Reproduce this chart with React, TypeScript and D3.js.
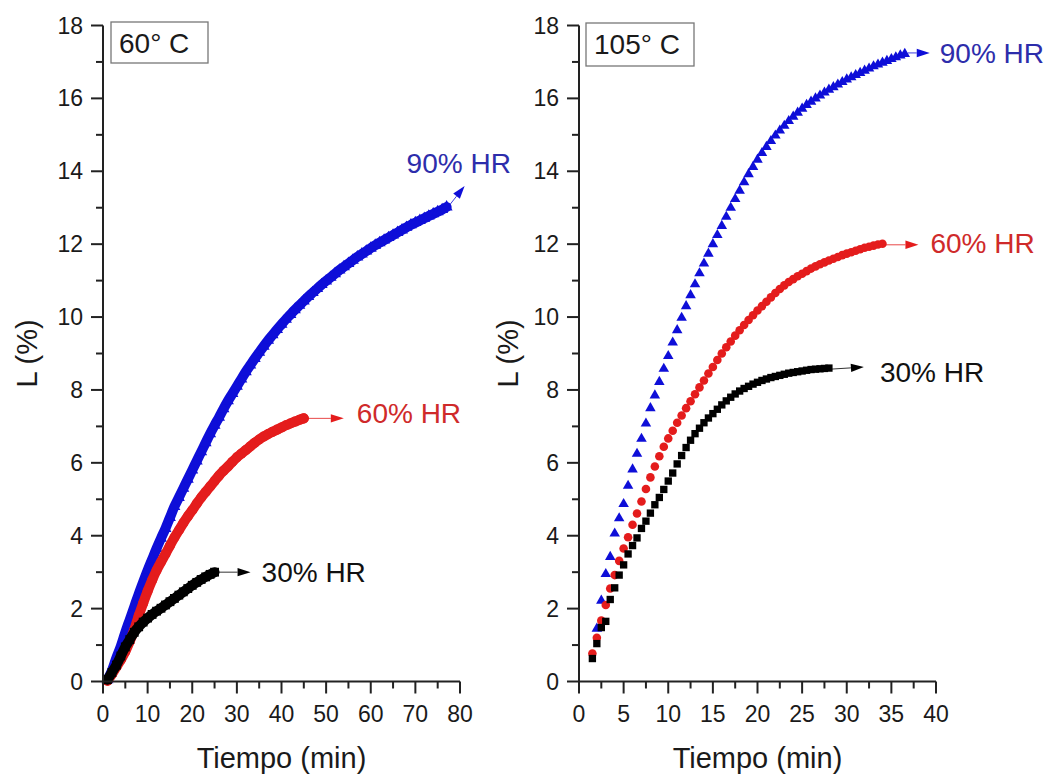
import React from 'react';
import * as d3 from 'd3';

// ---------- 60 °C panel data (time in min, L in %) ----------
const t60_90 = [1,2,3,4,5,6,7,8,9,10,11,12,13,14,15,16,17,18,19,20,21,22,23,24,25,26,27,28,29,30,31,32,33,34,35,36,37,38,39,40,41,42,43,44,45,46,47,48,49,50,51,52,53,54,55,56,57,58,59,60,61,62,63,64,65,66,67,68,69,70,71,72,73,74,75,76,77];
const L60_90 = [0.05,0.3,0.65,0.97,1.35,1.7,2.05,2.4,2.73,3.05,3.35,3.65,3.93,4.2,4.5,4.8,5.05,5.3,5.55,5.8,6.05,6.3,6.55,6.8,7.03,7.25,7.48,7.7,7.9,8.1,8.3,8.5,8.68,8.86,9.03,9.2,9.36,9.51,9.66,9.8,9.94,10.07,10.2,10.32,10.44,10.56,10.67,10.78,10.89,10.99,11.09,11.19,11.29,11.38,11.47,11.56,11.65,11.73,11.81,11.89,11.97,12.04,12.11,12.18,12.25,12.32,12.39,12.46,12.53,12.59,12.65,12.71,12.77,12.83,12.89,12.95,13.02];

const t60_60 = [1,2,3,4,5,6,7,8,9,10,11,12,13,14,15,16,17,18,19,20,21,22,23,24,25,26,27,28,29,30,31,32,33,34,35,36,37,38,39,40,41,42,43,44,45];
const L60_60 = [0.02,0.2,0.4,0.6,0.82,1.1,1.42,1.8,2.15,2.48,2.78,3.05,3.28,3.5,3.73,3.95,4.15,4.35,4.53,4.7,4.88,5.05,5.2,5.35,5.5,5.65,5.78,5.9,6.03,6.15,6.25,6.35,6.45,6.55,6.64,6.72,6.79,6.85,6.91,6.97,7.03,7.08,7.13,7.18,7.22];

const t60_30 = [1,2,3,4,5,6,7,8,9,10,11,12,13,14,15,16,17,18,19,20,21,22,23,24,25];
const L60_30 = [0.05,0.25,0.45,0.7,0.95,1.15,1.35,1.5,1.63,1.74,1.84,1.93,2.01,2.1,2.19,2.28,2.37,2.46,2.55,2.64,2.72,2.8,2.87,2.94,3.0];

// ---------- 105 °C panel data ----------
const t105_90 = [2,2.5,3,3.5,4,4.5,5,5.5,6,6.5,7,7.5,8,8.5,9,9.5,10,10.5,11,11.5,12,12.5,13,13.5,14,14.5,15,15.5,16,16.5,17,17.5,18,18.5,19,19.5,20,20.5,21,21.5,22,22.5,23,23.5,24,24.5,25,25.5,26,26.5,27,27.5,28,28.5,29,29.5,30,30.5,31,31.5,32,32.5,33,33.5,34,34.5,35,35.5,36,36.5];
const L105_90 = [1.45,2.22,2.95,3.42,4.06,4.48,4.87,5.37,5.82,6.25,6.66,7.08,7.5,7.85,8.22,8.58,8.93,9.3,9.64,9.98,10.3,10.6,10.9,11.2,11.47,11.74,12.0,12.25,12.5,12.75,13.0,13.24,13.47,13.7,13.92,14.12,14.32,14.5,14.67,14.83,14.98,15.12,15.25,15.38,15.5,15.61,15.72,15.82,15.91,16.0,16.08,16.16,16.24,16.31,16.38,16.45,16.52,16.58,16.64,16.7,16.76,16.82,16.88,16.93,16.98,17.03,17.08,17.13,17.18,17.22];

const t105_60 = [1.5,2,2.5,3,3.5,4,4.5,5,5.5,6,6.5,7,7.5,8,8.5,9,9.5,10,10.5,11,11.5,12,12.5,13,13.5,14,14.5,15,15.5,16,16.5,17,17.5,18,18.5,19,19.5,20,20.5,21,21.5,22,22.5,23,23.5,24,24.5,25,25.5,26,26.5,27,27.5,28,28.5,29,29.5,30,30.5,31,31.5,32,32.5,33,33.5,34];
const L105_60 = [0.77,1.2,1.67,2.1,2.55,2.92,3.31,3.65,3.96,4.3,4.61,4.94,5.28,5.6,5.9,6.18,6.44,6.67,6.88,7.1,7.3,7.5,7.69,7.88,8.07,8.26,8.45,8.63,8.82,9.0,9.17,9.33,9.49,9.64,9.78,9.92,10.05,10.18,10.3,10.42,10.54,10.66,10.77,10.87,10.96,11.04,11.12,11.19,11.26,11.33,11.39,11.45,11.5,11.55,11.6,11.65,11.7,11.74,11.78,11.82,11.86,11.9,11.93,11.96,11.99,12.01];

const t105_30 = [1.5,2,2.5,3,3.5,4,4.5,5,5.5,6,6.5,7,7.5,8,8.5,9,9.5,10,10.5,11,11.5,12,12.5,13,13.5,14,14.5,15,15.5,16,16.5,17,17.5,18,18.5,19,19.5,20,20.5,21,21.5,22,22.5,23,23.5,24,24.5,25,25.5,26,26.5,27,27.5,28];
const L105_30 = [0.63,1.04,1.48,1.65,2.25,2.57,2.92,3.2,3.5,3.73,3.94,4.2,4.4,4.62,4.85,5.05,5.27,5.5,5.72,5.97,6.2,6.42,6.62,6.8,6.95,7.1,7.23,7.35,7.47,7.59,7.7,7.8,7.89,7.97,8.04,8.1,8.16,8.21,8.26,8.3,8.34,8.37,8.4,8.43,8.46,8.48,8.5,8.52,8.54,8.56,8.57,8.58,8.59,8.6];

// ---------- ticks / labels ----------
const yMajor = [0,2,4,6,8,10,12,14,16,18];
const yMinor = [1,3,5,7,9,11,13,15,17];
const xMajor60 = [0,10,20,30,40,50,60,70,80];
const xMinor60 = [5,15,25,35,45,55,65,75];
const xMajor105 = [0,5,10,15,20,25,30,35,40];
const xMinor105 = [2.5,7.5,12.5,17.5,22.5,27.5,32.5,37.5];
const seriesNames = ['90% HR','60% HR','30% HR'];
const panelTitles = ['60° C','105° C'];
const xTitle = 'Tiempo (min)';
const yTitle = 'L (%)';

const FONT = "'Liberation Sans', Arial, Helvetica, sans-serif";
const BLUE = '#0e0ed8';
const RED = '#e41c1c';
const BLACK = '#000000';
const AX = '#222222';

type Ann = { sx: number; sy: number; ex: number; ey: number; tx: number; ty: number };

function Arrow({ x1, y1, x2, y2, color }: { x1: number; y1: number; x2: number; y2: number; color: string }) {
  const ang = Math.atan2(y2 - y1, x2 - x1);
  const len = 13, hw = 4.2;
  const bx = x2 - len * Math.cos(ang), by = y2 - len * Math.sin(ang);
  const px = -Math.sin(ang) * hw, py = Math.cos(ang) * hw;
  return (
    <g>
      <line x1={x1} y1={y1} x2={bx} y2={by} stroke={color} strokeWidth={1} opacity={0.8} />
      <polygon points={`${x2},${y2} ${bx + px},${by + py} ${bx - px},${by - py}`} fill={color} />
    </g>
  );
}

export default function App() {
  const W = 1057, H = 778;
  const yS = d3.scaleLinear().domain([0, 18]).range([681.5, 25.5]);

  const panels = [
    {
      xS: d3.scaleLinear().domain([0, 80]).range([103, 460]),
      xMajor: xMajor60, xMinor: xMinor60, title: panelTitles[0],
      box: { dx: 8, w: 97, y: 22, h: 41 },
      dense: true,
      yTitleX: 37,
      series: [
        { t: t60_90, L: L60_90, color: BLUE, text: '#2d2dab', sym: d3.symbolTriangle, size: 62, ann: { sx: 3, sy: -2, ex: 18, ey: -21, tx: -40, ty: -34 } as Ann },
        { t: t60_60, L: L60_60, color: RED, text: '#cf2a2a', sym: d3.symbolCircle, size: 80, ann: { sx: 3, sy: 0, ex: 40, ey: 0, tx: 53, ty: 5 } as Ann },
        { t: t60_30, L: L60_30, color: BLACK, text: '#111', sym: d3.symbolSquare, size: 78, ann: { sx: 3, sy: 0, ex: 36, ey: 0, tx: 47, ty: 10 } as Ann },
      ],
    },
    {
      xS: d3.scaleLinear().domain([0, 40]).range([579, 936]),
      xMajor: xMajor105, xMinor: xMinor105, title: panelTitles[1],
      box: { dx: 7, w: 108, y: 23, h: 43 },
      dense: false,
      yTitleX: 518,
      series: [
        { t: t105_90, L: L105_90, color: BLUE, text: '#2d2dab', sym: d3.symbolTriangle, size: 48, ann: { sx: 3, sy: -1, ex: 25, ey: -1, tx: 35, ty: 9 } as Ann },
        { t: t105_60, L: L105_60, color: RED, text: '#cf2a2a', sym: d3.symbolCircle, size: 58, ann: { sx: 3, sy: 1, ex: 36, ey: 1, tx: 48, ty: 9 } as Ann },
        { t: t105_30, L: L105_30, color: BLACK, text: '#111', sym: d3.symbolSquare, size: 54, ann: { sx: 3, sy: 1, ex: 35, ey: -1, tx: 51, ty: 14 } as Ann },
      ],
    },
  ];

  const y0 = yS(0), yTop = yS(18);

  return (
    <svg width={W} height={H} viewBox={`0 0 ${W} ${H}`} style={{ position: 'absolute', left: 0, top: 0, background: '#fff' }} fontFamily={FONT}>
      <rect x={0} y={0} width={W} height={H} fill="#fff" />
      {panels.map((p, pi) => {
        const x0 = p.xS.range()[0], x1 = p.xS.range()[1];
        const cx = (x0 + x1) / 2;
        return (
          <g key={pi}>
            {/* data */}
            {p.series.map((s, si) => {
              const pts = s.t.map((t, i) => [p.xS(t), yS(s.L[i])] as [number, number]);
              const path = d3.line().curve(d3.curveMonotoneX)(pts) || '';
              const sym = d3.symbol().type(s.sym).size(s.size)() || '';
              return (
                <g key={si}>
                  {p.dense && (
                    <path d={path} fill="none" stroke={s.color} strokeWidth={10} strokeLinejoin="round" strokeLinecap="round" />
                  )}
                  {pts.map((q, i) => (
                    <path key={i} d={sym} transform={`translate(${q[0]},${q[1]})`} fill={s.color} />
                  ))}
                </g>
              );
            })}
            {/* annotations */}
            {p.series.map((s, si) => {
              const n = s.t.length - 1;
              const px = p.xS(s.t[n]), py = yS(s.L[n]);
              const a = s.ann;
              return (
                <g key={'a' + si}>
                  <Arrow x1={px + a.sx} y1={py + a.sy} x2={px + a.ex} y2={py + a.ey} color={s.color} />
                  <text x={px + a.tx} y={py + a.ty} fontSize={28} fill={s.text}>{seriesNames[si]}</text>
                </g>
              );
            })}
            {/* axes */}
            <line x1={x0} y1={y0} x2={x0} y2={yTop} stroke={AX} strokeWidth={2} />
            <line x1={x0} y1={y0} x2={x1} y2={y0} stroke={AX} strokeWidth={2} />
            {yMajor.map((v) => (
              <g key={'ym' + v}>
                <line x1={x0 - 12} x2={x0} y1={yS(v)} y2={yS(v)} stroke={AX} strokeWidth={2} />
                <text x={x0 - 20} y={yS(v) + 8} fontSize={23} textAnchor="end" fill="#1a1a1a">{v}</text>
              </g>
            ))}
            {yMinor.map((v) => (
              <line key={'yn' + v} x1={x0 - 7} x2={x0} y1={yS(v)} y2={yS(v)} stroke={AX} strokeWidth={2} />
            ))}
            {p.xMajor.map((v) => (
              <g key={'xm' + v}>
                <line x1={p.xS(v)} x2={p.xS(v)} y1={y0} y2={y0 + 12} stroke={AX} strokeWidth={2} />
                <text x={p.xS(v)} y={y0 + 40} fontSize={23} textAnchor="middle" fill="#1a1a1a">{v}</text>
              </g>
            ))}
            {p.xMinor.map((v) => (
              <line key={'xn' + v} x1={p.xS(v)} x2={p.xS(v)} y1={y0} y2={y0 + 7} stroke={AX} strokeWidth={2} />
            ))}
            <text x={cx} y={768} fontSize={29} textAnchor="middle" fill="#1a1a1a">{xTitle}</text>
            <text transform={`translate(${p.yTitleX},${(y0 + yTop) / 2}) rotate(-90)`} fontSize={29} textAnchor="middle" fill="#1a1a1a">{yTitle}</text>
            {/* title box */}
            <rect x={x0 + p.box.dx} y={p.box.y} width={p.box.w} height={p.box.h} fill="#fff" stroke="#777" strokeWidth={1.3} />
            <text x={x0 + p.box.dx + 8} y={p.box.y + 31} fontSize={28} fill="#1a1a1a">{p.title}</text>
          </g>
        );
      })}
    </svg>
  );
}
